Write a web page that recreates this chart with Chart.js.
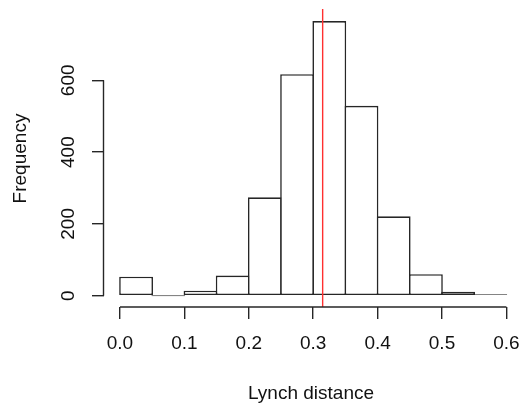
<!DOCTYPE html>
<html>
<head>
<meta charset="utf-8">
<script src="https://cdn.jsdelivr.net/npm/chart.js@4"></script>
<style>
  html, body { margin: 0; padding: 0; background: #fff; }
  canvas { display: block; }
</style>
</head>
<body>
<canvas id="c" width="520" height="404"></canvas>
<script>
// ---- data ----
const binStarts   = [0.00, 0.05, 0.10, 0.15, 0.20, 0.25, 0.30, 0.35, 0.40, 0.45, 0.50, 0.55];
const binWidth    = 0.05;
const frequencies = [53, 0, 14, 56, 274, 617, 765, 529, 221, 60, 11, 4];
const xTickValues = [0.0, 0.1, 0.2, 0.3, 0.4, 0.5, 0.6];
const yTickValues = [0, 200, 400, 600];
const markerValue = 0.3147;   // red vertical line
const xTitle = 'Lynch distance';
const yTitle = 'Frequency';

const FONT = '"Liberation Sans", Arial, sans-serif';
const INK = '#262626';

const points = binStarts.map((s, i) => ({ x: s + binWidth / 2, y: frequencies[i] }));

const rAxes = {
  id: 'rAxes',
  afterDatasetsDraw(chart) {
    const { ctx, chartArea, scales: { x } } = chart;
    ctx.save();
    ctx.strokeStyle = '#ff3030';
    ctx.lineWidth = 1.4;
    const mx = x.getPixelForValue(markerValue);
    ctx.beginPath();
    ctx.moveTo(mx, chartArea.top - 1);
    ctx.lineTo(mx, chartArea.bottom);
    ctx.stroke();
    ctx.restore();
  },
  afterDraw(chart) {
    const { ctx, chartArea, scales: { x, y } } = chart;
    ctx.save();
    ctx.strokeStyle = INK;
    ctx.lineWidth = 1.4;
    const yl = chartArea.left - 0.5;
    ctx.beginPath();
    ctx.moveTo(yl, y.getPixelForValue(yTickValues[0]));
    ctx.lineTo(yl, y.getPixelForValue(yTickValues[yTickValues.length - 1]));
    ctx.stroke();
    const xb = chartArea.bottom;
    ctx.beginPath();
    ctx.moveTo(x.getPixelForValue(xTickValues[0]), xb);
    ctx.lineTo(x.getPixelForValue(xTickValues[xTickValues.length - 1]), xb);
    ctx.stroke();

    ctx.fillStyle = '#111';
    ctx.font = '19px ' + FONT;
    ctx.textAlign = 'center';
    ctx.textBaseline = 'alphabetic';
    yTickValues.forEach(v => {
      ctx.save();
      ctx.translate(74, y.getPixelForValue(v));
      ctx.rotate(-Math.PI / 2);
      ctx.fillText(String(v), 0, 0);
      ctx.restore();
    });
    ctx.save();
    ctx.translate(26, (chartArea.top + chartArea.bottom) / 2);
    ctx.rotate(-Math.PI / 2);
    ctx.fillText(yTitle, 0, 0);
    ctx.restore();
    ctx.fillText(xTitle, 311, 399);
    ctx.restore();
  }
};

new Chart(document.getElementById('c'), {
  type: 'bar',
  data: {
    datasets: [{
      data: points,
      backgroundColor: '#ffffff',
      borderColor: INK,
      borderWidth: 1.6,
      borderSkipped: false,
      minBarLength: 1,
      barPercentage: 1.05,
      categoryPercentage: 1.0
    }]
  },
  options: {
    responsive: false,
    animation: false,
    events: [],
    layout: { padding: { top: 10, left: 0, right: 0, bottom: 0 }, autoPadding: false },
    plugins: { legend: { display: false }, tooltip: { enabled: false } },
    scales: {
      x: {
        type: 'linear',
        offset: false,
        min: -0.0248,
        max: 0.6211,
        afterBuildTicks: s => { s.ticks = xTickValues.map(v => ({ value: v })); },
        afterFit: s => { s.height = 97; s.paddingLeft = 0; s.paddingRight = 0; },
        border: { display: false },
        grid: { offset: false, drawOnChartArea: false, drawTicks: true, tickLength: 12, color: INK, lineWidth: 1.4 },
        ticks: {
          autoSkip: false, maxRotation: 0, minRotation: 0,
          padding: 13,
          color: '#111',
          font: { family: FONT, size: 19 },
          callback: v => Number(v).toFixed(1)
        }
      },
      y: {
        type: 'linear',
        min: -31.5,
        max: 795.8,
        afterBuildTicks: s => { s.ticks = yTickValues.map(v => ({ value: v })); },
        afterFit: s => { s.width = 104; },
        border: { display: false },
        grid: { offset: false, drawOnChartArea: false, drawTicks: true, tickLength: 12, color: INK, lineWidth: 1.4 },
        ticks: { display: false }
      }
    }
  },
  plugins: [rAxes]
});
</script>
</body>
</html>
